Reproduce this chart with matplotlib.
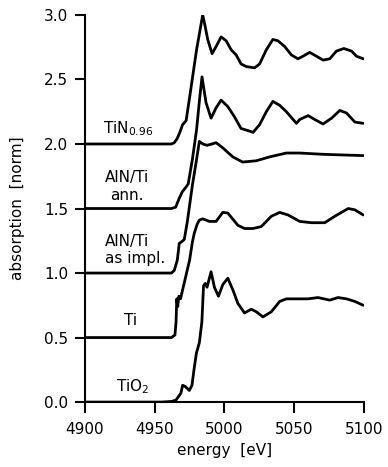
import numpy as np
import matplotlib
matplotlib.use("Agg")
import matplotlib.pyplot as plt

# Ti K-edge XANES, normalized, offset by 0.5
e_tin = [4900, 4962, 4964, 4966, 4968, 4970, 4972.5, 4975, 4980, 4984.4, 4986, 4988,
         4991.1, 4994, 4997.6, 5001.2, 5004.8, 5008.4, 5011.9, 5015.6, 5021.6, 5025.2,
         5030, 5034.7, 5038.3, 5043.2, 5048, 5052.7, 5056.3, 5061.1, 5066, 5070.7,
         5075.5, 5080.3, 5085.6, 5091.1, 5094.7, 5099.5]
y_tin = [2.0, 2.0, 2.01, 2.04, 2.09, 2.15, 2.18, 2.36, 2.73, 3.0, 2.92, 2.81,
         2.70, 2.755, 2.83, 2.80, 2.73, 2.69, 2.62, 2.60, 2.59, 2.62,
         2.73, 2.81, 2.80, 2.755, 2.69, 2.66, 2.68, 2.71, 2.68, 2.65,
         2.66, 2.72, 2.74, 2.72, 2.68, 2.66]

e_ann = [4900, 4962, 4965, 4967.6, 4969.8, 4972, 4974, 4977, 4980, 4982, 4983.9,
         4986.8, 4990.4, 4994, 4997.6, 5002.4, 5007.2, 5011.9, 5018, 5020.5, 5025.2,
         5030, 5034.7, 5039.6, 5044.4, 5049.2, 5051.6, 5054, 5060, 5064.7, 5070.7,
         5076.8, 5082.7, 5087.5, 5093.5, 5099.5]
y_ann = [1.5, 1.5, 1.51, 1.58, 1.63, 1.66, 1.69, 1.88, 2.11, 2.33, 2.52,
         2.32, 2.20, 2.28, 2.34, 2.29, 2.21, 2.12, 2.10, 2.09, 2.15,
         2.25, 2.33, 2.30, 2.25, 2.19, 2.16, 2.19, 2.22, 2.19, 2.155,
         2.20, 2.26, 2.24, 2.17, 2.16]

e_impl = [4900, 4962, 4964, 4966.2, 4967.6, 4969, 4971.2, 4973.4, 4977, 4980, 4982,
          4984.5, 4987.5, 4991, 4994, 4998.8, 5006, 5013, 5022.8, 5032.4, 5044.4,
          5054, 5070.7, 5085, 5099.5]
y_impl = [1.0, 1.0, 1.02, 1.10, 1.23, 1.24, 1.26, 1.40, 1.68, 1.88, 2.02,
          2.0, 1.99, 2.0, 2.01, 1.97, 1.90, 1.86, 1.87, 1.90, 1.93,
          1.93, 1.92, 1.915, 1.91]

e_ti = [4900, 4962, 4964.5, 4965.3, 4965.8, 4966.5, 4967.3, 4968.5, 4970, 4975, 4977,
        4978.4, 4980.5, 4982, 4984.4, 4989.2, 4994, 4998.8, 5002.4, 5009.6, 5014.4,
        5020.4, 5026.4, 5033.6, 5039.6, 5045.6, 5054, 5062.3, 5071.9, 5079.1, 5088.7,
        5093.5, 5099.5]
y_ti = [0.5, 0.5, 0.52, 0.62, 0.80, 0.74, 0.82, 0.80, 0.87, 1.10, 1.24,
        1.31, 1.38, 1.41, 1.42, 1.40, 1.40, 1.47, 1.465, 1.37, 1.345,
        1.345, 1.36, 1.44, 1.47, 1.45, 1.40, 1.39, 1.39, 1.44, 1.50,
        1.49, 1.45]

e_tio2 = [4900, 4955, 4962, 4965.2, 4968.8, 4970, 4972, 4974.8, 4976.7, 4978.4, 4979.9,
          4982, 4983.8, 4985, 4986.2, 4987.5, 4990.4, 4992.8, 4995.7, 4998.8, 5002.4,
          5006, 5009.6, 5014.4, 5019.2, 5022.8, 5027.6, 5033.6, 5039.6, 5044.4, 5050.4,
          5059.9, 5067.1, 5075.5, 5081.4, 5087.5, 5093.5, 5099.5]
y_tio2 = [0.0, 0.0, 0.005, 0.015, 0.07, 0.13, 0.12, 0.09, 0.13, 0.27, 0.38,
          0.46, 0.62, 0.90, 0.92, 0.89, 1.01, 0.89, 0.82, 0.91, 0.96,
          0.87, 0.765, 0.69, 0.72, 0.70, 0.66, 0.70, 0.78, 0.80, 0.80,
          0.80, 0.81, 0.79, 0.81, 0.80, 0.78, 0.75]

curves = [(e_tin, y_tin), (e_ann, y_ann), (e_impl, y_impl), (e_ti, y_ti), (e_tio2, y_tio2)]

fig = plt.figure(figsize=(3.88, 4.67), dpi=100)
ax = fig.add_axes([0.219, 0.139, 0.719, 0.829])

for e, y in curves:
    ax.plot(e, y, color='black', lw=2.0, solid_joinstyle='round', solid_capstyle='round')

ax.set_xlim(4900, 5100)
ax.set_ylim(0, 3.0)
ax.set_xticks([4900, 4950, 5000, 5050, 5100])
ax.set_yticks(np.arange(0, 3.01, 0.5))
ax.yaxis.set_major_formatter(matplotlib.ticker.FormatStrFormatter('%.1f'))

for s in ['top', 'right']:
    ax.spines[s].set_visible(False)
for s in ['left', 'bottom']:
    ax.spines[s].set_linewidth(1.5)
ax.tick_params(axis='both', direction='out', width=1.5, labelsize=11)
ax.tick_params(axis='x', length=8, pad=6)
ax.tick_params(axis='y', length=7, pad=5)

ax.set_xlabel('energy  [eV]', fontsize=11)
ax.set_ylabel('absorption  [norm]', fontsize=11)
ax.xaxis.set_label_coords(0.5, -0.105)
ax.yaxis.set_label_coords(-0.215, 0.5)

ax.text(4931, 2.12, 'TiN$_{0.96}$', fontsize=11, ha='center', va='center')
ax.text(4930, 1.67, 'AlN/Ti\nann.', fontsize=11, ha='center', va='center', linespacing=1.2)
ax.text(4914, 1.18, 'AlN/Ti\nas impl.', fontsize=11, ha='left', va='center', linespacing=1.2)
ax.text(4933, 0.63, 'Ti', fontsize=11, ha='center', va='center')
ax.text(4934, 0.12, 'TiO$_2$', fontsize=11, ha='center', va='center')

fig.savefig('out.png', dpi=100)
